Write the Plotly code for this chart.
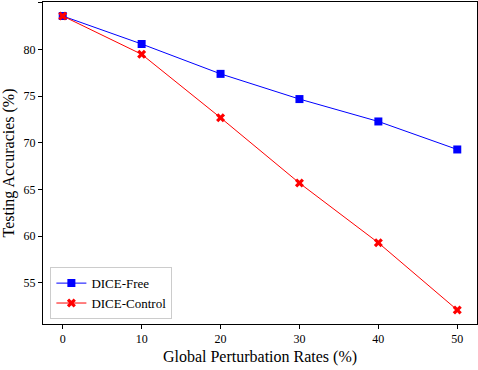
import plotly.graph_objects as go

rates = [0, 10, 20, 30, 40, 50]
dice_free = [83.6, 80.6, 77.4, 74.7, 72.3, 69.3]
dice_control = [83.6, 79.5, 72.7, 65.7, 59.3, 52.1]

font = "Times New Roman, Liberation Serif, serif"

fig = go.Figure()
fig.add_trace(go.Scatter(x=rates, y=dice_free, mode="lines+markers", name="DICE-Free",
                         line=dict(color="blue", width=1),
                         marker=dict(symbol="square", size=8, color="blue")))
fig.add_trace(go.Scatter(x=rates, y=dice_control, mode="lines+markers", name="DICE-Control",
                         line=dict(color="red", width=1),
                         marker=dict(symbol="x", size=8, color="red")))

fig.update_layout(
    width=478, height=370,
    margin=dict(l=43, r=1, t=2, b=46),
    plot_bgcolor="white", paper_bgcolor="white",
    font=dict(family=font, size=12, color="black"),
    showlegend=True,
    legend=dict(x=0.017, y=0.015, xanchor="left", yanchor="bottom",
                bgcolor="white", bordercolor="#cccccc", borderwidth=1,
                tracegroupgap=0, itemwidth=30,
                font=dict(family=font, size=13)),
    xaxis=dict(title=dict(text="Global Perturbation Rates (%)", font=dict(family=font, size=16), standoff=5),
               range=[-2.5, 52.5], tickvals=rates, showgrid=False, zeroline=False,
               tickfont=dict(family=font, size=12),
               showline=True, linecolor="black", linewidth=1, mirror=True,
               ticks="outside", ticklen=4, tickcolor="black"),
    yaxis=dict(title=dict(text="Testing Accuracies (%)", font=dict(family=font, size=16), standoff=6),
               range=[50.6, 85.1], tickvals=[55, 60, 65, 70, 75, 80, 85], showgrid=False,
               tickfont=dict(family=font, size=12),
               zeroline=False, showline=True, linecolor="black", linewidth=1, mirror=True,
               ticks="outside", ticklen=4, tickcolor="black"),
)

fig.write_html("out.html", config={"displayModeBar": False},
               post_script="document.body.style.margin='0';")
